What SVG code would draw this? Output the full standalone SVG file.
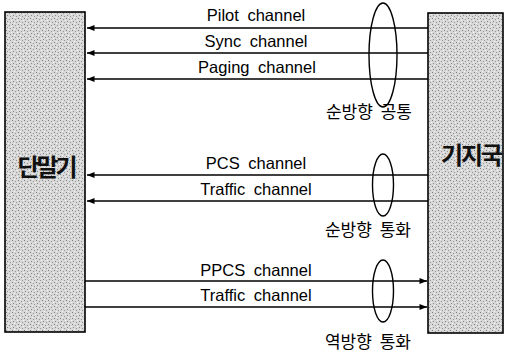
<svg xmlns="http://www.w3.org/2000/svg" width="506" height="354" viewBox="0 0 506 354">
<style>
.box{stroke:#000;stroke-width:1.6;}
.ln{stroke:#000;stroke-width:1.4;fill:none;}
.el{stroke:#000;stroke-width:1.4;fill:none;}
.lbl{font-family:"Liberation Sans",Arial,sans-serif;font-size:16.5px;word-spacing:4px;fill:#000;text-anchor:middle;}
.kr{font-family:"Noto Sans CJK KR","Noto Sans",sans-serif;font-size:17px;word-spacing:4px;fill:#000;text-anchor:middle;}
.kb{font-family:"Noto Sans CJK KR","Noto Sans",sans-serif;font-size:24px;font-weight:bold;fill:#111;text-anchor:middle;}
</style>
<defs>
<pattern id="stip" width="6" height="6" patternUnits="userSpaceOnUse">
<rect width="6" height="6" fill="#d8d8d8"/>
<rect x="0" y="0" width="1" height="1" fill="#808080"/>
<rect x="3" y="1" width="1" height="1" fill="#959595"/>
<rect x="1" y="3" width="1" height="1" fill="#888"/>
<rect x="4" y="4" width="1" height="1" fill="#959595"/>
<rect x="5" y="2" width="1" height="1" fill="#f4f4f4"/>
<rect x="2" y="5" width="1" height="1" fill="#f4f4f4"/>
</pattern>
<marker id="ah" viewBox="0 0 10 8" refX="10" refY="4" markerWidth="8" markerHeight="6" markerUnits="userSpaceOnUse" orient="auto">
<path d="M0,0 L10,4 L0,8 Z" fill="#000"/>
</marker>
</defs>
<g id="terminal">
<rect class="box" x="5" y="12" width="80" height="320" fill="url(#stip)"/>
<text class="kb" x="46" y="176" letter-spacing="-3">단말기</text>
</g>
<g id="basestation">
<rect class="box" x="428" y="13" width="75" height="320" fill="url(#stip)"/>
<text class="kb" x="471" y="164" letter-spacing="-2">기지국</text>
</g>
<g id="connectors">
<line class="ln" x1="428" y1="28" x2="87" y2="28" marker-end="url(#ah)"/>
<line class="ln" x1="428" y1="53" x2="87" y2="53" marker-end="url(#ah)"/>
<line class="ln" x1="428" y1="79" x2="87" y2="79" marker-end="url(#ah)"/>
<line class="ln" x1="428" y1="175" x2="87" y2="175" marker-end="url(#ah)"/>
<line class="ln" x1="428" y1="201" x2="87" y2="201" marker-end="url(#ah)"/>
<line class="ln" x1="85" y1="281" x2="427" y2="281" marker-end="url(#ah)"/>
<line class="ln" x1="85" y1="307" x2="427" y2="307" marker-end="url(#ah)"/>
</g>
<g id="labels">
<text class="lbl" x="256" y="21">Pilot channel</text>
<text class="lbl" x="256" y="47">Sync channel</text>
<text class="lbl" x="257" y="73">Paging channel</text>
<text class="lbl" x="256" y="169">PCS channel</text>
<text class="lbl" x="256" y="195">Traffic channel</text>
<text class="lbl" x="256" y="276">PPCS channel</text>
<text class="lbl" x="256" y="301">Traffic channel</text>
</g>
<g id="group-forward-common">
<ellipse class="el" cx="383" cy="55" rx="14" ry="52"/>
<text class="kr" x="369" y="118">순방향 공통</text>
</g>
<g id="group-forward-traffic">
<ellipse class="el" cx="383" cy="185" rx="10.5" ry="31"/>
<text class="kr" x="368" y="236">순방향 통화</text>
</g>
<g id="group-reverse-traffic">
<ellipse class="el" cx="383" cy="291" rx="10.5" ry="31"/>
<text class="kr" x="368" y="348">역방향 통화</text>
</g>
</svg>
